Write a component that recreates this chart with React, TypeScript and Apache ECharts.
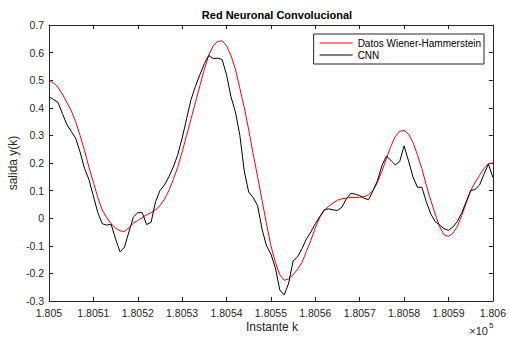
import React, { useEffect, useRef } from "react";
import * as echarts from "echarts";

const kStart = 180500;
const kEnd = 180600;
const xTickStep = 10;
const yMin = -0.3;
const yMax = 0.7;
const yTickStep = 0.1;

const titleText = "Red Neuronal Convolucional";
const xLabel = "Instante k";
const yLabel = "salida y(k)";
const seriesNames = ["Datos Wiener-Hammerstein", "CNN"];

// Datos Wiener-Hammerstein, k = 180500 .. 180600
const wienerValues = [
  0.5, 0.49, 0.475, 0.45, 0.42, 0.39, 0.35, 0.3, 0.245, 0.185,
  0.13, 0.075, 0.03, 0.002, -0.02, -0.036, -0.046, -0.048, -0.035, -0.018,
  -0.008, 0.002, 0.012, 0.02, 0.03, 0.045, 0.068, 0.1, 0.14, 0.185,
  0.24, 0.3, 0.36, 0.42, 0.48, 0.54, 0.59, 0.625, 0.64, 0.643,
  0.625, 0.59, 0.54, 0.47, 0.4, 0.32, 0.233, 0.15, 0.065, -0.02,
  -0.1, -0.16, -0.205, -0.225, -0.22, -0.205, -0.185, -0.16, -0.12, -0.08,
  -0.035, 0.004, 0.028, 0.043, 0.055, 0.065, 0.07, 0.073, 0.075, 0.075,
  0.076, 0.078, 0.085, 0.1, 0.13, 0.17, 0.215, 0.26, 0.295, 0.315,
  0.318, 0.305, 0.275, 0.23, 0.18, 0.12, 0.065, 0.015, -0.03, -0.06,
  -0.066, -0.055, -0.03, 0.01, 0.055, 0.1, 0.13, 0.155, 0.18, 0.198,
  0.2,
];

// CNN, k = 180500 .. 180600
const cnnValues = [
  0.44, 0.43, 0.42, 0.38, 0.34, 0.315, 0.29, 0.24, 0.18, 0.14,
  0.08, 0.02, -0.02, -0.025, -0.022, -0.075, -0.122, -0.105, -0.05, 0.004,
  0.02, 0.02, -0.023, -0.015, 0.06, 0.1, 0.12, 0.15, 0.185, 0.23,
  0.29, 0.36, 0.43, 0.478, 0.52, 0.56, 0.59, 0.578, 0.58, 0.575,
  0.52, 0.44, 0.385, 0.3, 0.17, 0.094, 0.075, 0.045, -0.04, -0.1,
  -0.13, -0.18, -0.26, -0.278, -0.235, -0.155, -0.14, -0.11, -0.075, -0.05,
  -0.02, 0.005, 0.03, 0.034, 0.03, 0.028, 0.04, 0.07, 0.09, 0.087,
  0.082, 0.072, 0.067, 0.1, 0.136, 0.19, 0.225, 0.21, 0.193, 0.205,
  0.262, 0.208, 0.15, 0.112, 0.112, 0.06, 0.016, -0.012, -0.025, -0.038,
  -0.044, -0.032, -0.012, 0.02, 0.06, 0.1, 0.104, 0.12, 0.16, 0.196,
  0.148,
];

const toPairs = (vals: number[]) => vals.map((v, i) => [kStart + i, v]);

export default function App() {
  const ref = useRef<HTMLDivElement>(null);
  useEffect(() => {
    if (!ref.current) return;
    const chart = echarts.init(ref.current, null, { renderer: "svg" });
    const axisColor = "#262626";
    const font = "'Liberation Sans', Arial, Helvetica, sans-serif";
    const grid = { left: 49, right: 14, top: 25, bottom: 38 };
    const baseX = {
      type: "value" as const,
      min: kStart,
      max: kEnd,
      interval: xTickStep,
      splitLine: { show: false },
      axisLine: { show: true, onZero: false, lineStyle: { color: axisColor, width: 1 } },
      axisTick: { show: true, inside: true, length: 4, lineStyle: { color: axisColor } },
    };
    const baseY = {
      type: "value" as const,
      min: yMin,
      max: yMax,
      interval: yTickStep,
      splitLine: { show: false },
      axisLine: { show: true, onZero: false, lineStyle: { color: axisColor, width: 1 } },
      axisTick: { show: true, inside: true, length: 4, lineStyle: { color: axisColor } },
    };
    chart.setOption({
      animation: false,
      backgroundColor: "#ffffff",
      textStyle: { fontFamily: font },
      title: {
        text: titleText,
        left: 272,
        textAlign: "center",
        top: 4,
        textStyle: { fontSize: 11, fontWeight: "bold", color: "#000", fontFamily: font },
      },
      grid,
      legend: {
        data: seriesNames,
        orient: "vertical",
        right: 25,
        top: 34,
        backgroundColor: "#fff",
        borderColor: axisColor,
        borderWidth: 1,
        padding: [3, 3, 3, 6],
        itemGap: 0,
        itemWidth: 33,
        itemHeight: 1.2,
        icon: "rect",
        textStyle: { fontSize: 10, color: "#000", fontFamily: font, lineHeight: 12 },
      },
      xAxis: [
        {
          ...baseX,
          position: "bottom",
          axisLabel: {
            show: true,
            color: axisColor,
            fontSize: 10.5,
            margin: 6,
            formatter: (v: number) => String(Number((v / 1e5).toFixed(4))),
          },
        },
        { ...baseX, position: "top", axisLabel: { show: false } },
      ],
      yAxis: [
        {
          ...baseY,
          position: "left",
          axisLabel: {
            show: true,
            color: axisColor,
            fontSize: 10.5,
            margin: 5,
            formatter: (v: number) => String(Number(v.toFixed(1))),
          },
        },
        { ...baseY, position: "right", axisLabel: { show: false } },
      ],
      series: [
        {
          name: seriesNames[0],
          type: "line",
          data: toPairs(wienerValues),
          symbol: "none",
          showSymbol: false,
          lineStyle: { color: "#ff0000", width: 1 },
          itemStyle: { color: "#ff0000" },
          z: 2,
        },
        {
          name: seriesNames[1],
          type: "line",
          data: toPairs(cnnValues),
          symbol: "none",
          showSymbol: false,
          lineStyle: { color: "#000000", width: 1 },
          itemStyle: { color: "#000000" },
          z: 3,
        },
      ],
      graphic: [
        {
          type: "text",
          x: 272,
          y: 327,
          style: {
            text: xLabel,
            fontSize: 12,
            fontFamily: font,
            fill: axisColor,
            align: "center",
            verticalAlign: "middle",
          },
        },
        {
          type: "text",
          x: 13,
          y: 163,
          rotation: Math.PI / 2,
          style: {
            text: yLabel,
            fontSize: 12,
            fontFamily: font,
            fill: axisColor,
            align: "center",
            verticalAlign: "middle",
          },
        },
        {
          type: "text",
          x: 488,
          y: 331,
          style: {
            text: "×10",
            fontSize: 11,
            fontFamily: font,
            fill: axisColor,
            align: "right",
            verticalAlign: "middle",
          },
        },
        {
          type: "text",
          x: 489,
          y: 325,
          style: {
            text: "5",
            fontSize: 8,
            fontFamily: font,
            fill: axisColor,
            align: "left",
            verticalAlign: "middle",
          },
        },
      ],
    });
    return () => chart.dispose();
  }, []);
  return (
    <div
      ref={ref}
      style={{ position: "fixed", left: 0, top: 0, width: 509, height: 339 }}
    />
  );
}
